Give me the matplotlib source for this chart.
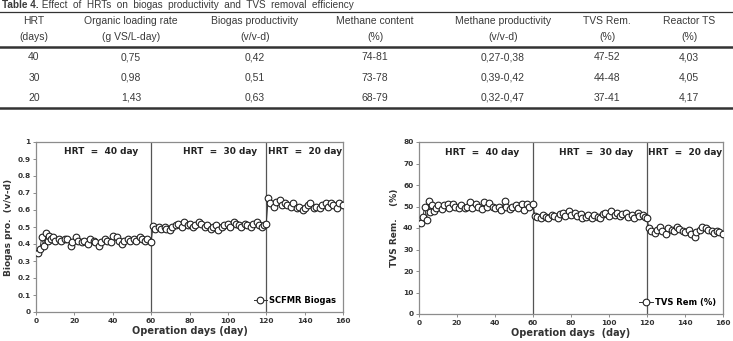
# Table 4 + two HRT time-series charts (biogas productivity, TVS removal)
import numpy as np
import matplotlib
matplotlib.use('Agg')
import matplotlib.pyplot as plt
from matplotlib.lines import Line2D

W, H = 733, 341

# ─────────────────────────────────────────
# TABLE DATA
# ─────────────────────────────────────────
TABLE_TITLE_BOLD = 'Table 4.'
TABLE_TITLE = ' Effect  of  HRTs  on  biogas  productivity  and  TVS  removal  efficiency'
HEAD_1 = ['HRT', 'Organic loading rate', 'Biogas productivity', 'Methane content',
          'Methane productivity', 'TVS Rem.', 'Reactor TS']
HEAD_2 = ['(days)', '(g VS/L-day)', '(v/v-d)', '(%)', '(v/v-d)', '(%)', '(%)']
ROWS = [
    ['40', '0,75', '0,42', '74-81', '0,27-0,38', '47-52', '4,03'],
    ['30', '0,98', '0,51', '73-78', '0,39-0,42', '44-48', '4,05'],
    ['20', '1,43', '0,63', '68-79', '0,32-0,47', '37-41', '4,17'],
]

# ─────────────────────────────────────────
# CHART DATA
# ─────────────────────────────────────────
DAYS_1 = [1, 2, 3, 4, 5, 6, 7, 8, 9, 10, 12, 13, 15, 16, 18, 19, 21, 22, 24, 25,
          27, 28, 30, 31, 33, 34, 36, 37, 39, 40, 42, 43, 45, 46, 48, 49, 51, 52,
          54, 55, 57, 58, 60]
DAYS_2 = [61, 62, 64, 65, 67, 68, 70, 71, 73, 74, 76, 77, 79, 80, 82, 83, 85, 86,
          88, 89, 91, 92, 94, 95, 97, 98, 100, 101, 103, 104, 106, 107, 109, 110,
          112, 113, 115, 116, 118, 119, 120]
DAYS_3 = [121, 122, 124, 125, 127, 128, 130, 131, 133, 134, 136, 137, 139, 140,
          142, 143, 145, 146, 148, 149, 151, 152, 154, 155, 157, 158, 160]

BIOGAS_1 = [0.35, 0.37, 0.44, 0.39, 0.465, 0.42, 0.45, 0.43, 0.44, 0.42, 0.43,
            0.42, 0.43, 0.43, 0.39, 0.41, 0.44, 0.42, 0.41, 0.42, 0.40, 0.43,
            0.42, 0.41, 0.39, 0.41, 0.43, 0.42, 0.41, 0.45, 0.44, 0.42, 0.40,
            0.42, 0.43, 0.42, 0.43, 0.42, 0.44, 0.43, 0.42, 0.43, 0.41]
BIOGAS_2 = [0.505, 0.49, 0.50, 0.49, 0.50, 0.49, 0.48, 0.50, 0.51, 0.52, 0.50,
            0.53, 0.51, 0.52, 0.50, 0.51, 0.53, 0.52, 0.50, 0.51, 0.49, 0.50,
            0.51, 0.48, 0.50, 0.51, 0.52, 0.50, 0.53, 0.52, 0.51, 0.50, 0.52,
            0.51, 0.50, 0.52, 0.53, 0.51, 0.50, 0.51, 0.515]
BIOGAS_3 = [0.67, 0.64, 0.62, 0.65, 0.66, 0.63, 0.64, 0.63, 0.62, 0.64, 0.61,
            0.62, 0.60, 0.61, 0.63, 0.64, 0.61, 0.62, 0.61, 0.63, 0.64, 0.62,
            0.64, 0.63, 0.61, 0.64, 0.63]

TVS_1 = [42.5, 45, 50, 43.5, 52.5, 47.5, 50.5, 48, 49.5, 50.5, 49, 50.5, 51,
         49.5, 51, 50, 49.5, 50.5, 49.5, 50, 52, 49.5, 51, 50, 49, 52, 50, 51.5,
         50, 49.5, 50, 48.5, 52.5, 50, 49, 50, 50.5, 49.5, 51, 48.5, 51, 50, 51]
TVS_2 = [45.5, 45, 44.5, 46, 45, 44.5, 46, 45.5, 44.5, 46.5, 47, 45.5, 48, 46,
         47, 45.5, 46.5, 44.5, 45, 46, 44.5, 46, 45, 44.5, 46.5, 47, 45.5, 48,
         46, 47, 45.5, 46.5, 47, 45, 46, 44.5, 47, 45.5, 46, 45, 44.5]
TVS_3 = [40, 38.5, 37.5, 39, 40.5, 38.5, 37, 40, 39, 38.5, 40.5, 39.5, 38.5,
         38, 39, 37, 36, 38, 39, 40.5, 40, 39, 38.5, 37.5, 38.5, 38, 37]

HRT_LABELS = ['HRT  =  40 day', 'HRT  =  30 day', 'HRT  =  20 day']
PHASE_BREAKS = [60, 120]

# ─────────────────────────────────────────
# FIGURE
# ─────────────────────────────────────────
fig = plt.figure(figsize=(W / 100, H / 100), dpi=100)


def fx(px):
    return px / W


def fy(py):
    return 1 - py / H


tfont = ['Liberation Sans Narrow', 'Liberation Sans', 'DejaVu Sans']
tcol = '#3a3a3a'

# title
t = fig.text(fx(2), fy(5), TABLE_TITLE_BOLD, fontsize=7.2, fontweight='bold',
             family=tfont, color=tcol, va='center', ha='left')
fig.canvas.draw()
bb = t.get_window_extent()
fig.text(bb.x1 / W, fy(5), TABLE_TITLE, fontsize=7.2, family=tfont,
         color=tcol, va='center', ha='left')

col_x = [34, 131, 255, 375, 503, 607, 689]
for cx, h1, h2 in zip(col_x, HEAD_1, HEAD_2):
    fig.text(fx(cx), fy(21), h1, fontsize=7.5, family=tfont, color=tcol,
             ha='center', va='center')
    fig.text(fx(cx), fy(37), h2, fontsize=7.5, family=tfont, color=tcol,
             ha='center', va='center')
for row, ry in zip(ROWS, [57, 78, 98]):
    for cx, val in zip(col_x, row):
        fig.text(fx(cx), fy(ry), val, fontsize=7.5, family=tfont, color=tcol,
                 ha='center', va='center')

for ly, lw in [(12, 0.9), (47, 1.8), (108, 1.8)]:
    fig.add_artist(Line2D([0, 1], [fy(ly), fy(ly)], color='#333333', lw=lw,
                          transform=fig.transFigure))

# ─────────────────────────────────────────
# CHARTS
# ─────────────────────────────────────────
grey = '#8c8c8c'


def make_chart(rect, days, vals, ymax, ystep, ylabel, xlabel, legend,
               label_y, label_x, ylabels):
    ax = fig.add_axes(rect)
    ax.plot(days, vals, color='#333333', lw=0.7, marker='o', ms=4.8,
            mfc='white', mec='#222222', mew=0.8, label=legend, zorder=3)
    for b in PHASE_BREAKS:
        ax.axvline(b, color='#555555', lw=0.9, zorder=1)
    for lx, lab in zip(label_x, HRT_LABELS):
        ax.text(lx, label_y, lab, ha='center', va='center', fontsize=6.5,
                fontweight='bold', color='#222222')
    ax.set_xlim(0, 160)
    ax.set_ylim(0, ymax)
    ax.set_xticks(np.arange(0, 161, 20))
    yt = np.arange(0, ymax + ystep / 2, ystep)
    ax.set_yticks(yt)
    ax.set_yticklabels(ylabels)
    for s in ax.spines.values():
        s.set_color(grey)
        s.set_linewidth(0.9)
    ax.tick_params(direction='out', length=2, width=0.7, color=grey,
                   labelsize=5.3, pad=2)
    for lab in ax.get_xticklabels() + ax.get_yticklabels():
        lab.set_fontweight('bold')
        lab.set_color('#333333')
    ax.set_xlabel(xlabel, fontsize=7, fontweight='bold', color='#333333',
                  labelpad=2)
    ax.set_ylabel(ylabel, fontsize=6.5, fontweight='bold', color='#333333',
                  labelpad=3)
    ax.legend(loc='lower right', frameon=False,
              handlelength=1.6, handletextpad=0.3, borderaxespad=0.4,
              prop={'weight': 'bold', 'size': 6})
    return ax


make_chart([fx(36), fy(312), fx(307), 170 / H],
           DAYS_1 + DAYS_2 + DAYS_3, BIOGAS_1 + BIOGAS_2 + BIOGAS_3,
           1.0, 0.1, 'Biogas pro.  (v/v-d)', 'Operation days (day)',
           'SCFMR Biogas', 0.945, [34, 96, 140],
           ['0', '0.1', '0.2', '0.3', '0.4', '0.5', '0.6', '0.7', '0.8',
            '0.9', '1'])

make_chart([fx(419), fy(314), fx(304), 172 / H],
           DAYS_1 + DAYS_2 + DAYS_3, TVS_1 + TVS_2 + TVS_3,
           80, 10, 'TVS Rem.    (%)', 'Operation days  (day)',
           'TVS Rem (%)', 75, [33, 93, 140],
           ['0', '10', '20', '30', '40', '50', '60', '70', '80'])

plt.savefig('out.png', dpi=100)
print('Saved out.png')
